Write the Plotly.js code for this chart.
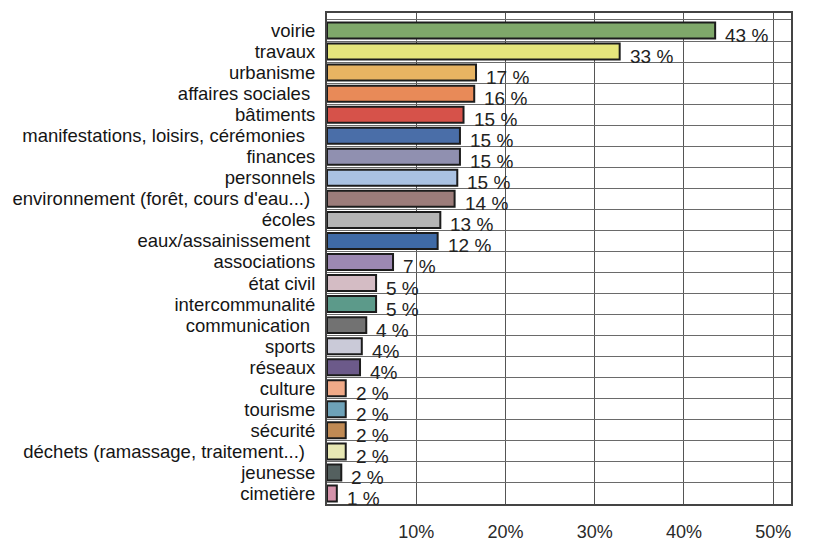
<!DOCTYPE html>
<html>
<head>
<meta charset="utf-8">
<script src="https://cdn.plot.ly/plotly-3.0.1.min.js"></script>
<style>html,body{margin:0;padding:0;background:#fff;}#chart{width:834px;height:547px;}</style>
</head>
<body>
<div id="chart"></div>
<script>
const categories = ["voirie","travaux","urbanisme","affaires sociales\u00a0","bâtiments","manifestations, loisirs, cérémonies\u00a0\u00a0","finances","personnels","environnement (forêt, cours d'eau...)\u00a0","écoles","eaux/assainissement\u00a0","associations","état civil","intercommunalité","communication\u00a0","sports","réseaux","culture","tourisme","sécurité","déchets (ramassage, traitement...)\u00a0\u00a0","jeunesse","cimetière"];
const values = [43.5,32.8,16.7,16.5,15.3,14.9,14.9,14.6,14.3,12.7,12.4,7.4,5.5,5.5,4.4,3.9,3.7,2.1,2.1,2.1,2.1,1.6,1.1];
const valueLabels = ["43 %","33 %","17 %","16 %","15 %","15 %","15 %","15 %","14 %","13 %","12 %","7 %","5 %","5 %","4 %","4%","4%","2 %","2 %","2 %","2 %","2 %","1 %"];
const barColors = ["#7fa86a","#e6e67c","#e8b462","#e88a58","#d6524a","#4a6ea8","#9090b0","#aac2e2","#9c7c7a","#b4b4b4","#3f6aa6","#9c88b2","#d4bcc4","#5c9a8a","#727272","#cacad8","#6c5a8a","#f0aa88","#6ea2b8","#c08a54","#e8e8b4","#54605f","#d492aa"];
const xTicks = [10,20,30,40,50];
const xTickText = ["10%","20%","30%","40%","50%"];

const trace = {
  type: "bar",
  orientation: "h",
  y: categories,
  x: values,
  width: 0.76,
  marker: {color: barColors, line: {color: "#1c1c1c", width: 2}},
  hoverinfo: "skip"
};

const annotations = categories.map((c, i) => ({
  x: values[i], y: c, xref: "x", yref: "y",
  text: valueLabels[i], showarrow: false,
  xanchor: "left", yanchor: "middle", xshift: 8, yshift: -5,
  font: {family: "Liberation Sans, Arial, sans-serif", size: 19, color: "#222222"}
}));

const layout = {
  width: 834, height: 547,
  margin: {l: 327, r: 43, t: 13, b: 43},
  paper_bgcolor: "#ffffff", plot_bgcolor: "#ffffff",
  showlegend: false,
  font: {family: "Liberation Sans, Arial, sans-serif", color: "#1e1e1e"},
  xaxis: {
    range: [0, 52], tickvals: xTicks, ticktext: xTickText,
    showgrid: true, gridcolor: "#555555", gridwidth: 1,
    zeroline: false, showline: true, linecolor: "#444444", linewidth: 2, mirror: true,
    ticks: "", ticklabelstandoff: 10,
    tickfont: {size: 18, color: "#2a2a2a"}, fixedrange: true
  },
  yaxis: {
    type: "category", autorange: "reversed",
    tickmode: "array", tickvals: categories, ticktext: categories,
    tickson: "boundaries", showgrid: true, gridcolor: "#6a6a6a", gridwidth: 1,
    showline: true, linecolor: "#444444", linewidth: 2, mirror: true,
    ticks: "", ticklabelstandoff: 6,
    tickfont: {size: 18.5, color: "#151515"}, fixedrange: true
  },
  annotations: annotations
};

Plotly.newPlot("chart", [trace], layout, {displayModeBar: false, staticPlot: true});
</script>
</body>
</html>
